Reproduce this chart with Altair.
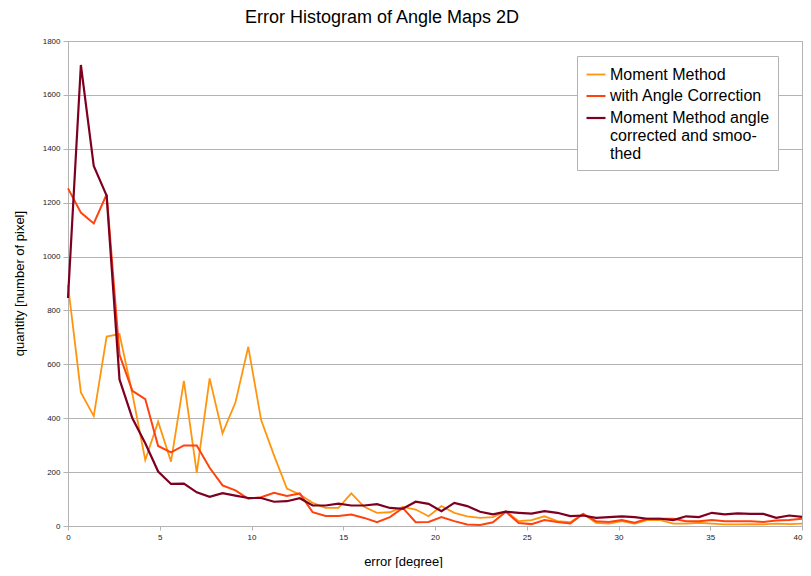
import altair as alt
import pandas as pd

# x positions: 58 histogram bins spread evenly over 0..40 degrees
n_bins = 58
x_max = 40.0
bin_x = [round(i * x_max / (n_bins - 1), 4) for i in range(n_bins)]

series_names = [
    "Moment Method",
    "with Angle Correction",
    "Moment Method angle corrected and smoothed",
]

moment_method = [
    894, 496, 408, 703, 712, 490, 245, 387, 239, 539,
    197, 548, 344, 458, 665, 393, 262, 139, 117, 86,
    67, 67, 121, 71, 49, 51, 71, 61, 36, 74,
    49, 36, 30, 33, 55, 18, 22, 36, 18, 14,
    45, 12, 9, 18, 9, 22, 22, 9, 9, 12,
    9, 6, 6, 7, 6, 9, 7, 9,
]

angle_correction = [
    1253, 1163, 1123, 1231, 635, 502, 471, 297, 273, 299,
    299, 216, 151, 132, 101, 107, 123, 111, 121, 51,
    37, 37, 43, 30, 14, 33, 67, 14, 15, 33,
    18, 6, 4, 14, 53, 11, 7, 22, 15, 9,
    45, 18, 15, 22, 12, 27, 27, 27, 18, 18,
    22, 18, 18, 18, 15, 20, 22, 27,
]

smoothed = [
    846, 1711, 1336, 1226, 544, 400, 307, 202, 156, 157,
    125, 108, 122, 113, 104, 104, 90, 92, 103, 76,
    76, 83, 76, 76, 81, 67, 64, 90, 82, 55,
    86, 74, 53, 43, 53, 49, 46, 55, 49, 37,
    39, 30, 33, 36, 33, 27, 27, 22, 36, 33,
    49, 43, 47, 45, 45, 30, 39, 34,
]

series_colors = ["#ff950e", "#ff420e", "#7e0021"]
series_widths = [1.8, 2.2, 3.0]

rows = []
for name, vals in zip(series_names, [moment_method, angle_correction, smoothed]):
    for x, v in zip(bin_x, vals):
        rows.append({"error": x, "quantity": v, "series": name})
df = pd.DataFrame(rows)

FONT = "Liberation Sans"
GRID = "#b3b3b3"

label_expr = (
    "datum.label == 'Moment Method angle corrected and smoothed' ? "
    "['Moment Method angle', 'corrected and smoo-', 'thed'] : datum.label"
)

chart = (
    alt.Chart(df)
    .mark_line(strokeJoin="miter")
    .encode(
        x=alt.X(
            "error:Q",
            scale=alt.Scale(domain=[0, 40], nice=False, zero=False),
            axis=alt.Axis(
                values=[0, 5, 10, 15, 20, 25, 30, 35, 40],
                grid=False,
                format="d",
                title="error [degree]",
                titleFont=FONT,
                titleFontSize=13,
                titleFontWeight="normal",
                titleColor="#000000",
                titleX=335,
                titleY=29,
                labelFont=FONT,
                labelFontSize=8,
                labelColor="#222222",
                labelPadding=3,
                labelFlush=False,
                labelAlign={
                    "condition": {"test": "datum.value >= 40", "value": "right"},
                    "value": "center",
                },
                domainColor=GRID,
                tickColor=GRID,
                tickSize=4,
            ),
        ),
        y=alt.Y(
            "quantity:Q",
            scale=alt.Scale(domain=[0, 1800], nice=False),
            axis=alt.Axis(
                values=list(range(0, 1801, 200)),
                grid=True,
                gridColor=GRID,
                format="d",
                title="quantity [number of pixel]",
                titleFont=FONT,
                titleFontSize=13,
                titleFontWeight="normal",
                titleColor="#000000",
                titleX=-42,
                titleY=242,
                labelFont=FONT,
                labelFontSize=8,
                labelColor="#222222",
                labelPadding=3,
                domainColor=GRID,
                tickColor=GRID,
                tickSize=5,
            ),
        ),
        color=alt.Color(
            "series:N",
            scale=alt.Scale(domain=series_names, range=series_colors),
            sort=series_names,
            legend=alt.Legend(
                title=None,
                orient="none",
                legendX=509,
                legendY=15,
                labelExpr=label_expr,
                labelFont=FONT,
                labelFontSize=16,
                labelColor="#000000",
                labelLimit=400,
                labelOffset=3,
                symbolType="stroke",
                symbolSize=360,
                symbolStrokeWidth=2.5,
                rowPadding=2.5,
                padding=8,
                strokeColor=GRID,
                fillColor="#ffffff",
            ),
        ),
        strokeWidth=alt.StrokeWidth(
            "series:N",
            scale=alt.Scale(domain=series_names, range=series_widths),
            legend=None,
        ),
    )
    .properties(
        width=734,
        height=485,
        title=alt.Title(
            "Error Histogram of Angle Maps 2D",
            font=FONT,
            fontSize=18,
            fontWeight="normal",
            color="#000000",
            anchor="middle",
            dx=-53,
            offset=10,
        ),
        autosize=alt.AutoSizeParams(type="none"),
        padding={"left": 60, "top": 33, "right": 1, "bottom": 42},
    )
    .configure_view(stroke=GRID, strokeWidth=1)
)

chart.save("out.html", embed_options={"renderer": "svg", "actions": False})
